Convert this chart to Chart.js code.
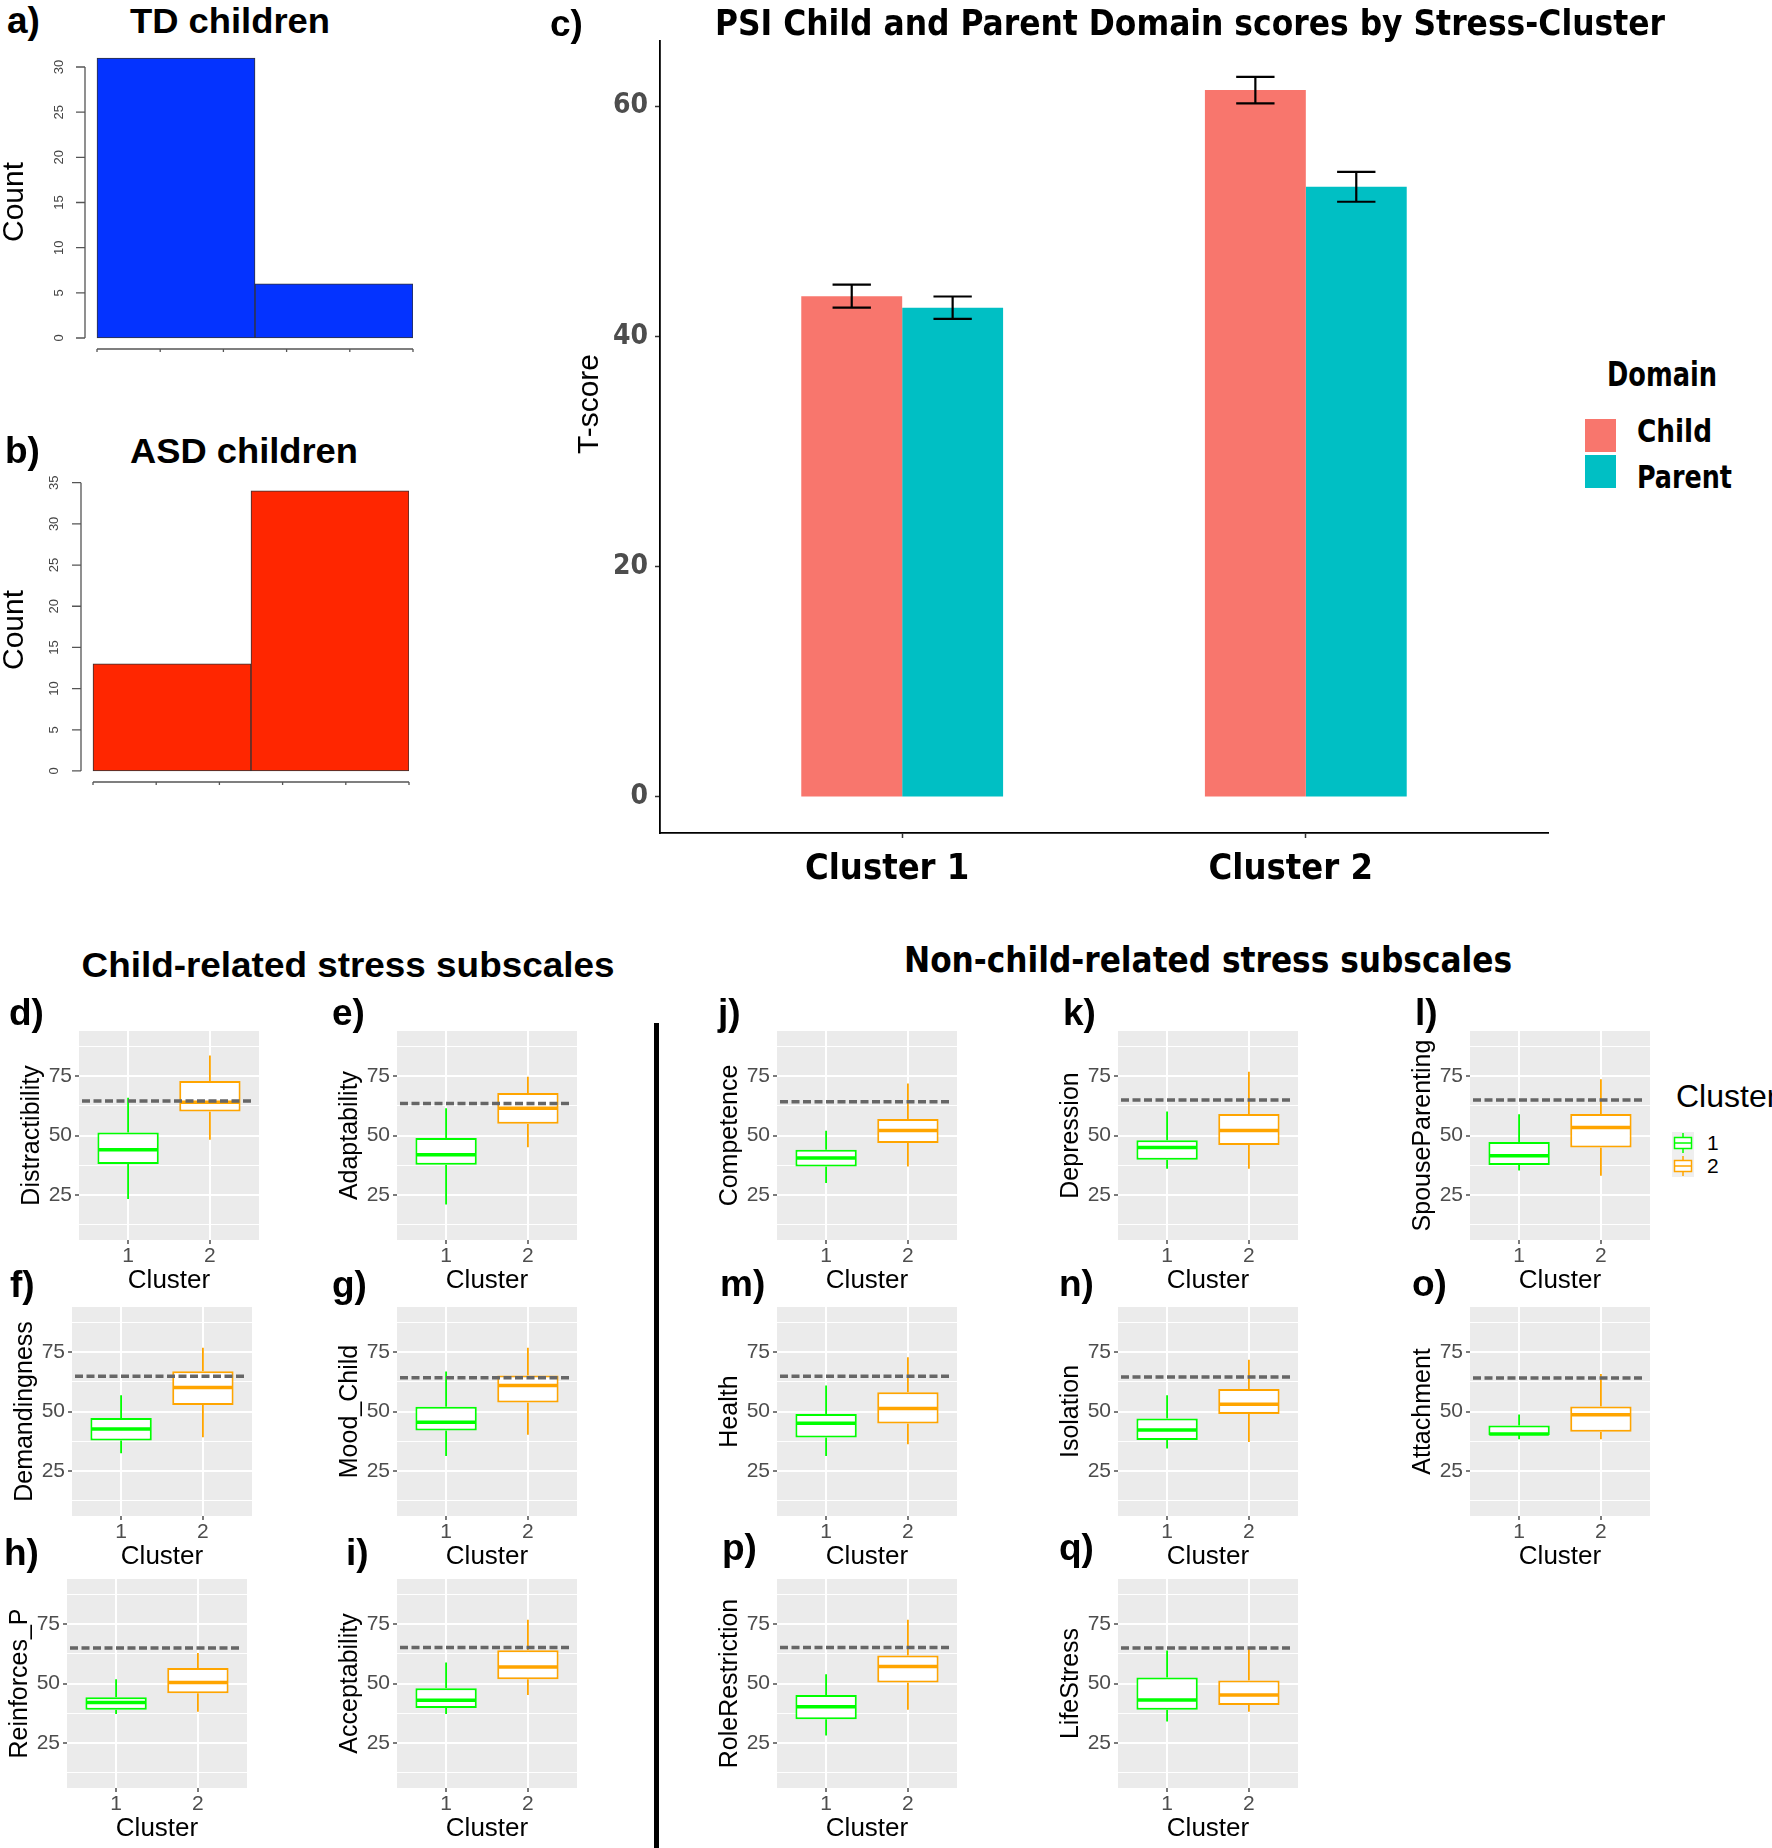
<!DOCTYPE html>
<html>
<head>
<meta charset="utf-8">
<script src="https://cdn.jsdelivr.net/npm/chart.js@4.4.1/dist/chart.umd.min.js"></script>
<style>
  html, body { margin: 0; padding: 0; background: #fff; }
  #fig { position: relative; width: 1772px; height: 1848px; overflow: hidden; background: #fff;
         font-family: "Liberation Sans", Arial, sans-serif; }
  #fig canvas { position: absolute; }
  .txt { position: absolute; white-space: nowrap; line-height: 1; color: #000; }
  .b { font-weight: bold; }
  .narrow { font-family: "Liberation Sans Narrow", "Arial Narrow", "DejaVu Sans Condensed", sans-serif; font-weight: bold; }
</style>
</head>
<body>
<div id="fig"></div>
<script>
// histograms (a, b)
const histBins = [1.25, 1.75];
const tdCounts = [31, 6];
const asdCounts = [13, 34];
const tdTicks = [0, 5, 10, 15, 20, 25, 30];
const asdTicks = [0, 5, 10, 15, 20, 25, 30, 35];
const histAxisTicks = [1, 1.2, 1.4, 1.6, 1.8, 2];

// domain scores (c)
const clusters = ['Cluster 1', 'Cluster 2'];
const childMeans = [43.5, 61.4];
const parentMeans = [42.5, 53.0];
const childErr = [1.0, 1.15];
const parentErr = [0.97, 1.3];
const tscoreTicks = [0, 20, 40, 60];

// subscale boxplots (d - q)
const subscales = ['Distractibility', 'Adaptability', 'Demandingness', 'Mood_Child', 'Reinforces_P', 'Acceptability',
  'Competence', 'Depression', 'SpouseParenting', 'Health', 'Isolation', 'Attachment', 'RoleRestriction', 'LifeStress'];
const lo1  = [23.3, 21.0, 32.4, 31.3, 37.2, 37.2, 30.0, 36.0, 35.3, 31.3, 34.4, 38.3, 28.1, 34.0];
const q1_1 = [38.0, 37.7, 37.8, 42.0, 38.9, 39.7, 37.0, 39.8, 37.6, 39.1, 38.0, 40.1, 35.0, 38.9];
const med1 = [44.0, 41.9, 42.6, 45.5, 42.0, 43.0, 40.5, 45.0, 41.5, 45.1, 42.2, 40.5, 40.2, 43.1];
const q3_1 = [51.3, 48.9, 47.3, 52.0, 44.2, 48.0, 44.0, 48.0, 47.3, 49.0, 47.1, 44.1, 45.2, 52.5];
const hi1  = [65.9, 61.5, 56.8, 66.8, 51.8, 58.8, 52.0, 60.1, 58.9, 60.9, 56.8, 48.7, 53.9, 63.9];
const lo2  = [48.2, 45.1, 39.2, 40.2, 38.1, 45.2, 37.0, 36.0, 33.1, 36.2, 37.2, 38.3, 38.9, 38.1];
const q1_2 = [60.1, 54.9, 52.7, 53.8, 45.9, 51.8, 46.8, 46.0, 45.0, 45.0, 49.0, 41.5, 50.4, 41.0];
const med2 = [64.0, 61.5, 60.1, 60.9, 50.4, 57.0, 52.1, 52.1, 53.4, 51.3, 53.1, 48.6, 57.2, 45.2];
const q3_2 = [72.9, 67.9, 67.0, 65.2, 56.5, 64.0, 57.0, 59.1, 59.1, 58.1, 59.5, 52.1, 61.8, 51.3];
const hi2  = [83.7, 74.7, 76.8, 76.8, 62.8, 76.8, 71.9, 76.8, 73.7, 72.8, 71.8, 65.8, 76.8, 65.3];
const cutoffs = [64.5, 63.5, 64.8, 64.2, 65.0, 65.2, 64.2, 64.9, 64.9, 64.8, 64.5, 64.1, 65.2, 64.9];
const boxTicks = [12.5, 25, 37.5, 50, 62.5, 75, 87.5];
const clusterTicks = ['1', '2'];

// layout of the subscale panels (grey area top-left) and panel tags
const boxPanels = [[79, 1031], [397, 1031], [72, 1307], [397, 1307], [67, 1579], [397, 1579],
  [777, 1031], [1118, 1031], [1470, 1031], [777, 1307], [1118, 1307], [1470, 1307], [777, 1579], [1118, 1579]];
const tags = [['a)', 7, 33], ['b)', 5, 463], ['c)', 550, 36],
  ['d)', 9, 1025], ['e)', 332, 1025], ['f)', 10, 1297], ['g)', 332, 1297], ['h)', 4, 1565], ['i)', 346, 1565],
  ['j)', 718, 1025], ['k)', 1063, 1025], ['l)', 1415, 1025], ['m)', 720, 1296], ['n)', 1059, 1296], ['o)', 1412, 1296],
  ['p)', 722, 1560], ['q)', 1059, 1560]];

const F = '"Liberation Sans", Arial, sans-serif';
const NARROW = '"Liberation Sans Narrow", "Arial Narrow", "DejaVu Sans Condensed", sans-serif';
const GREEN = '#00FF00', ORANGE = '#FFA500';
const fig = document.getElementById('fig');

function makeCanvas(left, top, w, h) {
  const c = document.createElement('canvas');
  c.width = w; c.height = h;
  c.style.left = left + 'px'; c.style.top = top + 'px';
  c.style.width = w + 'px'; c.style.height = h + 'px';
  fig.appendChild(c);
  return c;
}

function label(text, x, base, size, cls, align, fitW) {
  const d = document.createElement('div');
  d.className = 'txt ' + (cls || '');
  d.textContent = text;
  d.style.fontSize = size + 'px';
  d.style.left = x + 'px';
  d.style.top = (base - 0.8465 * size) + 'px';
  fig.appendChild(d);
  const w = d.getBoundingClientRect().width;
  const k = fitW ? fitW / w : 1;
  const tx = align === 'center' ? -w * k / 2 : 0;
  d.style.transformOrigin = '0 0';
  d.style.transform = `translateX(${tx}px) scaleX(${k})`;
  return d;
}

// ---------- plugins ----------
const panelBg = {
  id: 'panelBg',
  beforeDraw(chart, args, o) {
    if (!o.color) return;
    const {ctx, chartArea: a} = chart;
    ctx.save();
    ctx.fillStyle = o.color;
    ctx.fillRect(a.left, a.top, a.right - a.left, a.bottom - a.top);
    ctx.restore();
  }
};

const boxStats = {
  id: 'boxStats',
  afterDatasetsDraw(chart, args, o) {
    const {ctx, scales: {y}, chartArea: a} = chart;
    const bars = chart.getDatasetMeta(0).data;
    ctx.save();
    bars.forEach((bar, j) => {
      const half = bar.width / 2 - 1;
      ctx.strokeStyle = o.colors[j];
      ctx.lineWidth = 1.8;
      ctx.beginPath();
      ctx.moveTo(bar.x, y.getPixelForValue(o.hi[j]));
      ctx.lineTo(bar.x, y.getPixelForValue(o.q3[j]));
      ctx.moveTo(bar.x, y.getPixelForValue(o.q1[j]));
      ctx.lineTo(bar.x, y.getPixelForValue(o.lo[j]));
      ctx.stroke();
      const my = y.getPixelForValue(o.med[j]);
      ctx.lineWidth = 3.5;
      ctx.beginPath();
      ctx.moveTo(bar.x - half, my);
      ctx.lineTo(bar.x + half, my);
      ctx.stroke();
    });
    const cy = y.getPixelForValue(o.cutoff);
    ctx.strokeStyle = '#666666';
    ctx.lineWidth = 3.5;
    ctx.setLineDash([8, 3.5]);
    ctx.beginPath();
    ctx.moveTo(a.left + 3, cy);
    ctx.lineTo(a.right - 5, cy);
    ctx.stroke();
    ctx.restore();
  }
};

const errorBars = {
  id: 'errorBars',
  afterDatasetsDraw(chart, args, o) {
    const {ctx, scales: {y}} = chart;
    ctx.save();
    ctx.strokeStyle = '#000';
    ctx.lineWidth = 2.2;
    chart.data.datasets.forEach((ds, d) => {
      chart.getDatasetMeta(d).data.forEach((bar, j) => {
        const v = ds.data[j].y, e = o.errs[d][j];
        const top = y.getPixelForValue(v + e), bot = y.getPixelForValue(v - e);
        const w = bar.width * 0.19;
        ctx.beginPath();
        ctx.moveTo(bar.x - w, top); ctx.lineTo(bar.x + w, top);
        ctx.moveTo(bar.x, top); ctx.lineTo(bar.x, bot);
        ctx.moveTo(bar.x - w, bot); ctx.lineTo(bar.x + w, bot);
        ctx.stroke();
      });
    });
    ctx.restore();
  }
};

// base-R style axes: lines span only the tick range, y labels turned
const rAxes = {
  id: 'rAxes',
  afterDraw(chart, args, o) {
    const {ctx, scales: {x, y}, chartArea: a} = chart;
    const yt = o.yTicks, xt = o.xTicks;
    ctx.save();
    ctx.strokeStyle = '#555';
    ctx.lineWidth = 1.3;
    ctx.beginPath();
    ctx.moveTo(a.left, y.getPixelForValue(yt[yt.length - 1]));
    ctx.lineTo(a.left, y.getPixelForValue(yt[0]));
    yt.forEach(v => { const py = y.getPixelForValue(v); ctx.moveTo(a.left - 9, py); ctx.lineTo(a.left, py); });
    ctx.moveTo(x.getPixelForValue(xt[0]), a.bottom);
    ctx.lineTo(x.getPixelForValue(xt[xt.length - 1]), a.bottom);
    xt.forEach(v => { const px = x.getPixelForValue(v); ctx.moveTo(px, a.bottom); ctx.lineTo(px, a.bottom + 3); });
    ctx.stroke();
    ctx.fillStyle = '#444';
    ctx.font = '13px ' + F;
    ctx.textAlign = 'center';
    ctx.textBaseline = 'middle';
    yt.forEach(v => {
      ctx.save();
      ctx.translate(a.left - o.labelGap, y.getPixelForValue(v));
      ctx.rotate(-Math.PI / 2);
      ctx.fillText(String(v), 0, 0);
      ctx.restore();
    });
    ctx.restore();
  }
};

// ---------- histograms ----------
function histChart(box, counts, yTicks, color, yRange, labelGap) {
  const [left, top, w, h, padTop, padRight, yw, xh] = box;
  new Chart(makeCanvas(left, top, w, h), {
    type: 'bar',
    data: { datasets: [{
      data: histBins.map((b, i) => ({x: b, y: counts[i]})),
      backgroundColor: color, borderColor: '#333', borderWidth: 1, borderSkipped: false,
      categoryPercentage: 1, barPercentage: 1
    }]},
    options: {
      responsive: false, animation: false, events: [],
      layout: { padding: { top: padTop, right: padRight, left: 0, bottom: 0 } },
      plugins: { legend: {display: false}, tooltip: {enabled: false},
        rAxes: { yTicks: yTicks, xTicks: histAxisTicks, labelGap: labelGap } },
      scales: {
        x: { type: 'linear', min: 0.962, max: 2, offset: false,
          afterBuildTicks: s => { s.ticks = histBins.map(v => ({value: v})); },
          afterFit: s => { s.height = xh; },
          ticks: { display: false }, grid: { display: false, offset: false }, border: { display: false } },
        y: { min: yRange[0], max: yRange[1],
          afterBuildTicks: s => { s.ticks = yTicks.map(v => ({value: v})); },
          afterFit: s => { s.width = yw; },
          ticks: { display: false }, grid: { display: false }, border: { display: false },
          title: { display: true, text: 'Count', color: '#000', font: {family: F, size: 30, lineHeight: 1}, padding: {top: 0, bottom: 0} } }
      }
    },
    plugins: [rAxes]
  });
}
histChart([0, 45, 430, 350, 10, 17, 85, 46], tdCounts, tdTicks, '#0433FF', [-1.22, 31.33], 26);
histChart([0, 470, 430, 360, 8, 21, 81, 48], asdCounts, asdTicks, '#FF2600', [-1.34, 35.57], 27);

// ---------- panel c ----------
new Chart(makeCanvas(560, 20, 1003, 873), {
  type: 'bar',
  data: { datasets: [
    { label: 'Child', data: childMeans.map((v, i) => ({x: i + 1, y: v})), backgroundColor: '#F8766D',
      categoryPercentage: 0.5, barPercentage: 1 },
    { label: 'Parent', data: parentMeans.map((v, i) => ({x: i + 1, y: v})), backgroundColor: '#00BFC4',
      categoryPercentage: 0.5, barPercentage: 1 }
  ]},
  options: {
    responsive: false, animation: false, events: [],
    layout: { padding: { top: 21, right: 15, left: 0, bottom: 0 } },
    plugins: { legend: {display: false}, tooltip: {enabled: false}, errorBars: { errs: [childErr, parentErr] } },
    scales: {
      x: { type: 'linear', min: 0.4, max: 2.6, offset: false,
        afterBuildTicks: s => { s.ticks = clusters.map((c, i) => ({value: i + 1})); },
        afterFit: s => { s.height = 60; },
        ticks: { callback: (v, i) => clusters[i], color: '#000', padding: 14, labelOffset: -15,
          maxRotation: 0, autoSkip: false, font: {family: NARROW, size: 36, weight: 'bold', lineHeight: 1} },
        grid: { offset: false, drawOnChartArea: false, tickLength: 5, tickColor: '#333', tickWidth: 1.5 },
        border: { display: true, color: '#000', width: 1.8 } },
      y: { min: -3.13, max: 65.66,
        afterBuildTicks: s => { s.ticks = tscoreTicks.map(v => ({value: v})); },
        afterFit: s => { s.width = 100; },
        ticks: { color: '#4D4D4D', padding: 7, font: {family: NARROW, size: 28, weight: 'bold', lineHeight: 1} },
        grid: { drawOnChartArea: false, tickLength: 5, tickColor: '#333', tickWidth: 1.5 },
        border: { display: true, color: '#000', width: 1.8 } }
    }
  },
  plugins: [errorBars]
});

// ---------- subscale boxplots ----------
const PW = 180, PH = 209, YW = 60, XH = 62, PAD = 15;
subscales.forEach((name, i) => {
  const [gx, gy] = boxPanels[i];
  new Chart(makeCanvas(gx - YW, gy - PAD, YW + PW + PAD, PAD + PH + XH), {
    type: 'bar',
    data: { datasets: [{
      data: [{x: 1, y: [q1_1[i], q3_1[i]]}, {x: 2, y: [q1_2[i], q3_2[i]]}],
      backgroundColor: '#fff', borderColor: [GREEN, ORANGE], borderWidth: 2, borderSkipped: false,
      categoryPercentage: 0.75, barPercentage: 1
    }]},
    options: {
      responsive: false, animation: false, events: [],
      layout: { padding: { top: PAD, right: PAD, left: 0, bottom: 0 } },
      plugins: {
        legend: {display: false}, tooltip: {enabled: false},
        panelBg: { color: '#EBEBEB' },
        boxStats: { lo: [lo1[i], lo2[i]], q1: [q1_1[i], q1_2[i]], med: [med1[i], med2[i]],
                    q3: [q3_1[i], q3_2[i]], hi: [hi1[i], hi2[i]], cutoff: cutoffs[i], colors: [GREEN, ORANGE] }
      },
      scales: {
        x: { type: 'linear', min: 0.4, max: 2.6, offset: false,
          afterBuildTicks: s => { s.ticks = clusterTicks.map((t, k) => ({value: k + 1})); },
          afterFit: s => { s.height = XH; },
          ticks: { callback: (v, k) => clusterTicks[k], color: '#4D4D4D', padding: 1, maxRotation: 0, autoSkip: false,
            font: {family: F, size: 21, lineHeight: 1.1} },
          grid: { offset: false, color: '#fff', lineWidth: 2, tickColor: '#333', tickLength: 4, tickWidth: 1.3 },
          border: { display: false },
          title: { display: true, text: 'Cluster', color: '#000', font: {family: F, size: 26, lineHeight: 1},
            padding: {top: 0, bottom: 8} } },
        y: { min: 6, max: 94,
          afterBuildTicks: s => { s.ticks = boxTicks.map(v => ({value: v})); },
          afterFit: s => { s.width = YW; },
          ticks: { callback: v => (v % 25 === 0 ? String(v) : ''), color: '#4D4D4D', padding: 3,
            font: {family: F, size: 21, lineHeight: 1.1} },
          grid: { color: '#fff',
            lineWidth: c => (c.tick && c.tick.value % 25 === 0 ? 2 : 1),
            tickColor: c => (c.tick && c.tick.value % 25 === 0 ? '#333' : 'rgba(0,0,0,0)'),
            tickLength: 4, tickWidth: 1.3 },
          border: { display: false },
          title: { display: true, text: name, color: '#000', font: {family: F, size: 25, lineHeight: 1},
            padding: {top: 1, bottom: 0} } }
      }
    },
    plugins: [panelBg, boxStats]
  });
});

// ---------- texts, legends, divider ----------
label('TD children', 230, 33, 35, 'b', 'center', 200);
label('ASD children', 244, 463, 35, 'b', 'center', 228);
label('PSI Child and Parent Domain scores by Stress-Cluster', 1190, 36, 35, 'narrow', 'center', 950);
label('Child-related stress subscales', 348, 977, 35, 'b', 'center', 533);
label('Non-child-related stress subscales', 1208, 973, 35, 'narrow', 'center', 608);
tags.forEach(([t, x, base]) => label(t, x, base, 37, 'b'));

const tscore = document.createElement('div');
tscore.className = 'txt';
tscore.textContent = 'T-score';
tscore.style.cssText += 'font-size:30px;left:588px;top:404px;transform:translate(-50%,-50%) rotate(-90deg);';
fig.appendChild(tscore);

// Domain legend
label('Domain', 1662, 386, 33, 'narrow', 'center', 110);
[['Child', '#F8766D', 419, 442], ['Parent', '#00BFC4', 455, 488]].forEach(([t, col, sy, base]) => {
  const sw = document.createElement('div');
  sw.style.cssText = `position:absolute;left:1585px;top:${sy}px;width:31px;height:33px;background:${col};`;
  fig.appendChild(sw);
  label(t, 1637, base, 32, 'narrow', 'left', t === 'Child' ? 75 : 95);
});

// Cluster legend
label('Cluster', 1676, 1107, 32, '', 'left');
const keyBg = document.createElement('div');
keyBg.style.cssText = 'position:absolute;left:1672px;top:1132px;width:22px;height:45px;background:#EFEFEF;';
keyBg.innerHTML = [GREEN, ORANGE].map((c, k) =>
  `<svg width="22" height="22" style="position:absolute;left:0;top:${k * 23}px">
     <line x1="11" y1="1" x2="11" y2="21" stroke="${c}" stroke-width="1.5"/>
     <rect x="2.5" y="5.5" width="17" height="11" fill="#fff" stroke="${c}" stroke-width="1.5"/>
     <line x1="2.5" y1="11" x2="19.5" y2="11" stroke="${c}" stroke-width="1.5"/>
   </svg>`).join('');
fig.appendChild(keyBg);
label('1', 1707, 1150, 21, '', 'left');
label('2', 1707, 1173, 21, '', 'left');

const divider = document.createElement('div');
divider.style.cssText = 'position:absolute;left:654px;top:1023px;width:5px;height:825px;background:#000;';
fig.appendChild(divider);
</script>
</body>
</html>
